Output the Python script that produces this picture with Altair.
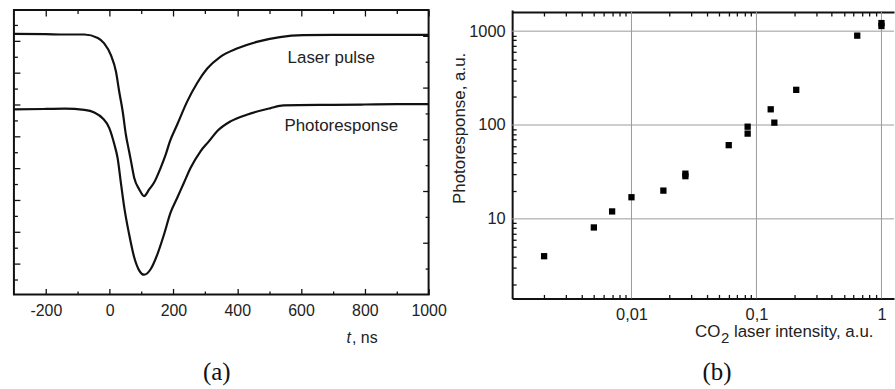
import altair as alt
import pandas as pd

# ---------------- (a) oscilloscope traces ----------------
# time, ns
T_LASER = [-300, -200, -141, -79, -37, -17, 4, 20, 30, 41, 51, 61, 67, 77, 93, 108,
           124, 139, 160, 176, 189, 212, 243, 274, 306, 347, 399, 461, 534, 607,
           700, 800, 900, 1000]
# signal, arb. units
V_LASER = [7.23, 7.22, 7.21, 7.21, 7.10, 6.93, 6.56, 6.04, 5.42, 4.79, 4.06, 3.54,
           3.23, 2.71, 2.34, 2.13, 2.34, 2.55, 3.02, 3.44, 3.85, 4.38, 5.10, 5.68,
           6.14, 6.51, 6.77, 6.98, 7.13, 7.19, 7.20, 7.20, 7.20, 7.20]

T_PHOTO = [-300, -200, -141, -79, -48, -22, -1, 15, 25, 36, 46, 61, 77, 93, 108, 129,
           150, 171, 191, 212, 233, 254, 285, 311, 337, 379, 430, 503, 545, 700, 800,
           900, 1000]
V_PHOTO = [4.86, 4.87, 4.88, 4.84, 4.76, 4.58, 4.27, 3.75, 3.33, 2.50, 1.77, 0.94,
           0.21, -0.21, -0.34, -0.16, 0.31, 0.94, 1.61, 2.08, 2.55, 3.02, 3.54, 3.85,
           4.17, 4.48, 4.69, 4.89, 4.98, 5.00, 5.01, 5.02, 5.02]

TRACE_LABELS = ["Laser pulse", "Photoresponse"]
LABEL_T = [558, 548]
LABEL_V = [6.33, 4.18]

T_MAJOR = [-200, 0, 200, 400, 600, 800, 1000]
T_MINOR = [-100, 100, 300, 500, 700, 900]
V_MAJOR_L = [0, 1, 2, 3, 4, 5, 6, 7]
V_MINOR_L = [-0.5, 0.5, 1.5, 2.5, 3.5, 4.5, 5.5, 6.5, 7.5]
V_MAJOR_R = [0.66, 2.29, 3.92, 5.55, 7.18]
V_MINOR_R = [-0.155, 1.475, 3.105, 4.735, 6.365]

# ---------------- (b) intensity dependence ----------------
INTENSITY = [0.002, 0.005, 0.007, 0.01, 0.018, 0.027, 0.027, 0.06, 0.085, 0.085,
             0.13, 0.139, 0.208, 0.64, 1.0, 1.0]
RESPONSE = [4.0, 8.1, 12, 17, 20, 28.5, 30.3, 61, 81, 96, 147, 106, 237, 896,
            1135, 1220]

X_DECADES = [0.01, 0.1, 1]
Y_DECADES = [10, 100, 1000]
X_MINOR = [k * d for d in (0.001, 0.01, 0.1) for k in range(2, 10)]
Y_MINOR = [k * d for d in (1, 10, 100) for k in range(2, 10)]

SANS = "Liberation Sans"
SERIF = "Liberation Serif"
INK = "#111111"

# ---------- panel (a) ----------
W1, H1 = 417, 286
curves = pd.DataFrame({
    "t": T_LASER + T_PHOTO,
    "v": V_LASER + V_PHOTO,
    "trace": [TRACE_LABELS[0]] * len(T_LASER) + [TRACE_LABELS[1]] * len(T_PHOTO),
})
xs1 = alt.Scale(domain=[-300, 1000], nice=False, zero=False)
ys1 = alt.Scale(domain=[-0.96, 7.98], nice=False, zero=False)


def tick_axis(orient, values, size, labels=False, **kw):
    return alt.Axis(orient=orient, values=values, tickSize=size, offset=-size,
                    domain=False, grid=False, labels=labels, title=None,
                    tickColor=INK, tickWidth=1.3, **kw)


# plain integer labels with an ASCII hyphen for negatives
x_bottom_major = tick_axis("bottom", T_MAJOR, 6, labels=True, labelPadding=8,
                           labelFont=SANS, labelFontSize=16, labelColor="#222",
                           labelFlush=False, labelOverlap=False,
                           labelExpr="'' + datum.value")

base1 = alt.Chart(curves)
enc_common = dict(detail="trace:N")

traces = base1.mark_line(color=INK, strokeWidth=2.2, interpolate="monotone").encode(
    x=alt.X("t:Q", scale=xs1, axis=x_bottom_major),
    y=alt.Y("v:Q", scale=ys1, axis=tick_axis("left", V_MAJOR_L, 6)),
    **enc_common,
)
minor_bl = base1.mark_line(opacity=0).encode(
    x=alt.X("t:Q", scale=xs1, axis=tick_axis("bottom", T_MINOR, 3.5)),
    y=alt.Y("v:Q", scale=ys1, axis=tick_axis("left", V_MINOR_L, 3.5)),
    **enc_common,
)
major_tr = base1.mark_line(opacity=0).encode(
    x=alt.X("t:Q", scale=xs1, axis=tick_axis("top", T_MAJOR, 6)),
    y=alt.Y("v:Q", scale=ys1, axis=tick_axis("right", V_MAJOR_R, 6)),
    **enc_common,
)
minor_tr = base1.mark_line(opacity=0).encode(
    x=alt.X("t:Q", scale=xs1, axis=tick_axis("top", T_MINOR, 3.5)),
    y=alt.Y("v:Q", scale=ys1, axis=tick_axis("right", V_MINOR_R, 3.5)),
    **enc_common,
)

labels_df = pd.DataFrame({"t": LABEL_T, "v": LABEL_V, "name": TRACE_LABELS})
trace_names = alt.Chart(labels_df).mark_text(
    align="left", baseline="alphabetic", font=SANS, fontSize=17, color="#222"
).encode(
    x=alt.X("t:Q", scale=xs1, axis=None),
    y=alt.Y("v:Q", scale=ys1, axis=None),
    text="name:N",
)

t_italic = alt.Chart(pd.DataFrame({"s": ["t"]})).mark_text(
    align="right", baseline="alphabetic", font=SANS, fontSize=16, fontStyle="italic",
    color="#222"
).encode(x=alt.value(339), y=alt.value(335), text="s:N")
t_unit = alt.Chart(pd.DataFrame({"s": [", ns"]})).mark_text(
    align="left", baseline="alphabetic", font=SANS, fontSize=16, color="#222"
).encode(x=alt.value(340), y=alt.value(335), text="s:N")
cap_a = alt.Chart(pd.DataFrame({"s": ["(a)"]})).mark_text(
    align="center", baseline="middle", font=SERIF, fontSize=25, color="#111"
).encode(x=alt.value(204), y=alt.value(364), text="s:N")

panel_a = alt.layer(
    traces, minor_bl, major_tr, minor_tr, trace_names, t_italic, t_unit, cap_a
).resolve_axis(x="independent", y="independent").properties(
    width=W1, height=H1, view=alt.ViewBackground(stroke=INK, strokeWidth=2)
)

# ---------- panel (b) ----------
W2, H2 = 384, 290
pts = pd.DataFrame({"x": INTENSITY, "y": RESPONSE})
xs2 = alt.Scale(type="log", domain=[0.00111, 1.26], nice=False)
ys2 = alt.Scale(type="log", domain=[1.42, 1680], nice=False)

grid_v = alt.Chart(pd.DataFrame({"g": X_DECADES})).mark_rule(
    color="#9a9a9a", strokeWidth=1
).encode(x=alt.X("g:Q", scale=xs2, axis=None), y=alt.value(2), y2=alt.value(H2))
grid_h = alt.Chart(pd.DataFrame({"g": Y_DECADES})).mark_rule(
    color="#9a9a9a", strokeWidth=1
).encode(y=alt.Y("g:Q", scale=ys2, axis=None), x=alt.value(0), x2=alt.value(W2))

x_b_axis = alt.Axis(orient="bottom", values=X_DECADES, ticks=False, domain=True,
                    domainColor=INK, domainWidth=2, grid=False, title=None,
                    labelPadding=8, labelFont=SANS, labelFontSize=16.5,
                    labelColor="#222", labelFlush=False, labelOverlap=False,
                    labelExpr="replace(format(datum.value, '~g'), '.', ',')")
y_l_axis = alt.Axis(orient="left", values=Y_DECADES, ticks=False, domain=True,
                    domainColor=INK, domainWidth=2, grid=False, title=None,
                    labelPadding=7, labelFont=SANS, labelFontSize=16.5,
                    labelColor="#222", labelOverlap=False,
                    labelExpr="'' + datum.value")

points = alt.Chart(pts).mark_square(size=40, color="#000", opacity=1).encode(
    x=alt.X("x:Q", scale=xs2, axis=x_b_axis),
    y=alt.Y("y:Q", scale=ys2, axis=y_l_axis),
)
minor_b2 = alt.Chart(pts).mark_square(opacity=0).encode(
    x=alt.X("x:Q", scale=xs2, axis=tick_axis("bottom", X_MINOR, 4)),
    y=alt.Y("y:Q", scale=ys2, axis=tick_axis("left", Y_MINOR, 4)),
)
top_border = alt.Chart(pts).mark_square(opacity=0).encode(
    x=alt.X("x:Q", scale=xs2, axis=alt.Axis(
        orient="top", ticks=False, labels=False, domain=True, domainColor=INK,
        domainWidth=2, grid=False, title=None, offset=-2)),
    y=alt.Y("y:Q", scale=ys2, axis=None),
)
top_minor = alt.Chart(pts).mark_square(opacity=0).encode(
    x=alt.X("x:Q", scale=xs2, axis=alt.Axis(
        orient="top", values=X_MINOR, tickSize=4, offset=-6, domain=False,
        labels=False, grid=False, title=None, tickColor=INK, tickWidth=1.3)),
    y=alt.Y("y:Q", scale=ys2, axis=None),
)

y_title = alt.Chart(pd.DataFrame({"s": ["Photoresponse, a.u."]})).mark_text(
    angle=270, align="center", baseline="middle", font=SANS, fontSize=17, color="#222"
).encode(x=alt.value(-52), y=alt.value(119), text="s:N")
xt_co = alt.Chart(pd.DataFrame({"s": ["CO"]})).mark_text(
    align="left", baseline="alphabetic", font=SANS, fontSize=17, color="#222"
).encode(x=alt.value(184), y=alt.value(329), text="s:N")
xt_sub = alt.Chart(pd.DataFrame({"s": ["2"]})).mark_text(
    align="left", baseline="alphabetic", font=SANS, fontSize=15, color="#222"
).encode(x=alt.value(210), y=alt.value(335), text="s:N")
xt_rest = alt.Chart(pd.DataFrame({"s": ["laser intensity, a.u."]})).mark_text(
    align="left", baseline="alphabetic", font=SANS, fontSize=17, color="#222"
).encode(x=alt.value(223), y=alt.value(329), text="s:N")
cap_b = alt.Chart(pd.DataFrame({"s": ["(b)"]})).mark_text(
    align="center", baseline="middle", font=SERIF, fontSize=25, color="#111"
).encode(x=alt.value(206), y=alt.value(364), text="s:N")

panel_b = alt.layer(
    grid_v, grid_h, points, minor_b2, top_border, top_minor,
    y_title, xt_co, xt_sub, xt_rest, cap_b
).resolve_axis(x="independent", y="independent").properties(
    width=W2, height=H2, view=alt.ViewBackground(stroke="transparent")
)

chart = alt.hconcat(panel_a, panel_b, spacing=84, bounds="flush").properties(
    padding={"left": 8, "top": 7, "right": 0, "bottom": 0},
    background="white",
)

chart.save("out.html", embed_options={"renderer": "svg", "actions": False})
